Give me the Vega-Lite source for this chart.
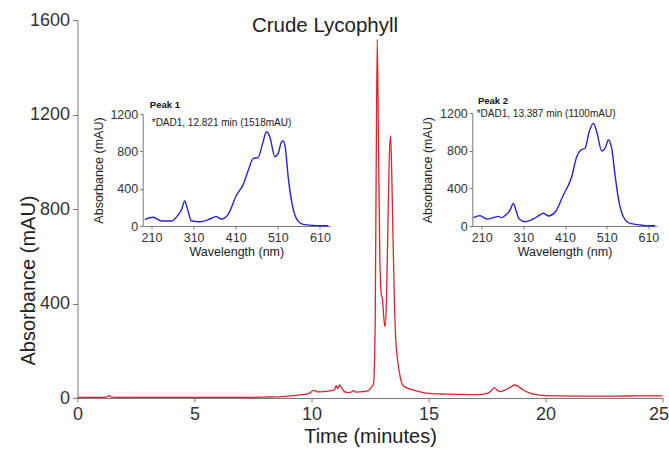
{
  "$schema": "https://vega.github.io/schema/vega-lite/v6.json",
  "width": 585,
  "height": 378,
  "autosize": {"type": "none"},
  "padding": {"left": 77.5, "top": 20, "right": 6.5, "bottom": 54},
  "background": "white",
  "config": {
    "font": "Liberation Sans",
    "view": {"stroke": null},
    "axis": {"grid": false, "domainColor": "#7a7a7a", "tickColor": "#7a7a7a", "labelColor": "#333333", "titleColor": "#222222", "titleFontWeight": "normal", "labelFlush": false, "format": "d"}
  },
  "title": {"text": "Crude Lycophyll", "fontSize": 20.5, "fontWeight": "normal", "color": "#222222", "anchor": "middle", "dx": -45, "baseline": "middle", "offset": 0, "dy": 35},
  "datasets": {
    "main": [
      {"t": 0, "mAU": 3}, {"t": 0.5, "mAU": 3}, {"t": 1.0, "mAU": 3}, {"t": 1.25, "mAU": 4}, {"t": 1.36, "mAU": 10}, {"t": 1.45, "mAU": 4},
      {"t": 2, "mAU": 3}, {"t": 3, "mAU": 3}, {"t": 4, "mAU": 3}, {"t": 5, "mAU": 3}, {"t": 6, "mAU": 3}, {"t": 7, "mAU": 3},
      {"t": 7.5, "mAU": 3}, {"t": 8, "mAU": 4}, {"t": 8.5, "mAU": 5}, {"t": 8.9, "mAU": 7}, {"t": 9.2, "mAU": 10}, {"t": 9.6, "mAU": 14},
      {"t": 9.9, "mAU": 20}, {"t": 10.1, "mAU": 32}, {"t": 10.25, "mAU": 26}, {"t": 10.5, "mAU": 27}, {"t": 10.85, "mAU": 31},
      {"t": 11.0, "mAU": 36}, {"t": 11.05, "mAU": 52}, {"t": 11.12, "mAU": 40}, {"t": 11.2, "mAU": 55}, {"t": 11.3, "mAU": 40},
      {"t": 11.4, "mAU": 28}, {"t": 11.55, "mAU": 23}, {"t": 11.7, "mAU": 25}, {"t": 11.78, "mAU": 31}, {"t": 11.9, "mAU": 25},
      {"t": 12.2, "mAU": 27}, {"t": 12.43, "mAU": 31}, {"t": 12.55, "mAU": 45}, {"t": 12.65, "mAU": 60}, {"t": 12.72, "mAU": 300},
      {"t": 12.76, "mAU": 900}, {"t": 12.81, "mAU": 1518}, {"t": 12.86, "mAU": 1100}, {"t": 12.92, "mAU": 600}, {"t": 12.98, "mAU": 440},
      {"t": 13.03, "mAU": 420}, {"t": 13.1, "mAU": 330}, {"t": 13.14, "mAU": 302}, {"t": 13.2, "mAU": 400}, {"t": 13.26, "mAU": 700},
      {"t": 13.32, "mAU": 1000}, {"t": 13.38, "mAU": 1110}, {"t": 13.43, "mAU": 950}, {"t": 13.48, "mAU": 700}, {"t": 13.54, "mAU": 420},
      {"t": 13.6, "mAU": 250}, {"t": 13.68, "mAU": 160}, {"t": 13.78, "mAU": 95}, {"t": 13.85, "mAU": 65}, {"t": 13.92, "mAU": 52},
      {"t": 14.1, "mAU": 42}, {"t": 14.3, "mAU": 35}, {"t": 14.6, "mAU": 27}, {"t": 14.9, "mAU": 21}, {"t": 15.5, "mAU": 17},
      {"t": 16, "mAU": 16}, {"t": 16.5, "mAU": 15}, {"t": 17.06, "mAU": 14}, {"t": 17.4, "mAU": 17}, {"t": 17.56, "mAU": 22},
      {"t": 17.7, "mAU": 32}, {"t": 17.81, "mAU": 44}, {"t": 17.95, "mAU": 32}, {"t": 18.06, "mAU": 27}, {"t": 18.32, "mAU": 36},
      {"t": 18.5, "mAU": 46}, {"t": 18.7, "mAU": 55}, {"t": 18.85, "mAU": 48}, {"t": 19.05, "mAU": 34}, {"t": 19.3, "mAU": 22},
      {"t": 19.5, "mAU": 16}, {"t": 20, "mAU": 10}, {"t": 20.5, "mAU": 9}, {"t": 21.6, "mAU": 8}, {"t": 23, "mAU": 8},
      {"t": 24, "mAU": 9}, {"t": 25, "mAU": 9}
    ],
    "peak1": [
      {"wl": 194, "abs": 71}, {"wl": 214, "abs": 93}, {"wl": 234, "abs": 54}, {"wl": 258, "abs": 54}, {"wl": 273, "abs": 118},
      {"wl": 281, "abs": 171}, {"wl": 289, "abs": 268}, {"wl": 295, "abs": 189}, {"wl": 305, "abs": 54}, {"wl": 325, "abs": 46},
      {"wl": 349, "abs": 75}, {"wl": 364, "abs": 100}, {"wl": 376, "abs": 75}, {"wl": 392, "abs": 125}, {"wl": 412, "abs": 332},
      {"wl": 428, "abs": 446}, {"wl": 440, "abs": 600}, {"wl": 452, "abs": 725}, {"wl": 463, "abs": 732}, {"wl": 474, "abs": 885},
      {"wl": 483, "abs": 1010}, {"wl": 491, "abs": 957}, {"wl": 503, "abs": 743}, {"wl": 511, "abs": 778}, {"wl": 519, "abs": 903},
      {"wl": 523, "abs": 910}, {"wl": 528, "abs": 832}, {"wl": 535, "abs": 510}, {"wl": 543, "abs": 261}, {"wl": 554, "abs": 82},
      {"wl": 570, "abs": 18}, {"wl": 602, "abs": 4}, {"wl": 630, "abs": 2}
    ],
    "peak2": [
      {"wl": 190, "abs": 89}, {"wl": 206, "abs": 110}, {"wl": 222, "abs": 75}, {"wl": 238, "abs": 89}, {"wl": 250, "abs": 103},
      {"wl": 258, "abs": 89}, {"wl": 266, "abs": 110}, {"wl": 278, "abs": 170}, {"wl": 286, "abs": 241}, {"wl": 292, "abs": 170},
      {"wl": 300, "abs": 75}, {"wl": 314, "abs": 46}, {"wl": 334, "abs": 75}, {"wl": 346, "abs": 107}, {"wl": 358, "abs": 135},
      {"wl": 370, "abs": 107}, {"wl": 386, "abs": 146}, {"wl": 406, "abs": 330}, {"wl": 426, "abs": 525}, {"wl": 438, "abs": 738},
      {"wl": 448, "abs": 809}, {"wl": 458, "abs": 827}, {"wl": 468, "abs": 1005}, {"wl": 478, "abs": 1093}, {"wl": 486, "abs": 1005},
      {"wl": 498, "abs": 799}, {"wl": 506, "abs": 827}, {"wl": 514, "abs": 916}, {"wl": 522, "abs": 827}, {"wl": 530, "abs": 543},
      {"wl": 538, "abs": 295}, {"wl": 550, "abs": 99}, {"wl": 566, "abs": 28}, {"wl": 598, "abs": 7}, {"wl": 626, "abs": 2}
    ],
    "p1head": [{"wl": 206, "abs": 1296, "label": "Peak 1"}],
    "p1sub": [{"wl": 210.5, "abs": 1107, "label": "*DAD1, 12.821 min (1518mAU)"}],
    "p2head": [{"wl": 201, "abs": 1330, "label": "Peak 2"}],
    "p2sub": [{"wl": 198, "abs": 1190, "label": "*DAD1, 13.387 min (1100mAU)"}]
  },
  "layer": [
    {
      "data": {"name": "main"},
      "mark": {"type": "line", "color": "#e3202b", "strokeWidth": 1.3, "interpolate": "monotone"},
      "encoding": {
        "x": {"field": "t", "type": "quantitative", "scale": {"domain": [0, 25], "nice": false},
          "axis": {"orient": "bottom", "values": [0, 5, 10, 15, 20, 25], "title": "Time (minutes)", "labelFontSize": 18, "titleFontSize": 20, "tickSize": 4, "labelPadding": 3, "titlePadding": 3,
            "labelAlign": {"condition": {"test": "datum.value === 25", "value": "right"}, "value": "center"},
            "labelOffset": {"condition": {"test": "datum.value === 25", "value": 6}, "value": 0}}},
        "y": {"field": "mAU", "type": "quantitative", "scale": {"domain": [0, 1600], "nice": false},
          "axis": {"orient": "left", "values": [0, 400, 800, 1200, 1600], "title": "Absorbance (mAU)", "labelFontSize": 18, "titleFontSize": 20, "tickSize": 5, "labelPadding": 3, "titleX": -49.5, "titleY": 260, "titleBaseline": "middle"}}
      }
    },
    {
      "layer": [
        {
          "data": {"name": "peak1"},
          "mark": {"type": "line", "color": "#2323d8", "strokeWidth": 1.4, "interpolate": "monotone"},
          "encoding": {
            "x": {"field": "wl", "type": "quantitative", "scale": {"domain": [189, 634], "range": [65.2, 252.5], "nice": false, "zero": false},
              "axis": {"orient": "bottom", "offset": -172, "values": [210, 310, 410, 510, 610], "title": "Wavelength (nm)", "labelFontSize": 12.5, "titleFontSize": 12.5, "tickSize": 3, "labelPadding": 2, "titlePadding": 2}},
            "y": {"field": "abs", "type": "quantitative", "scale": {"domain": [0, 1200], "range": [206, 94], "nice": false},
              "axis": {"orient": "left", "offset": -65.2, "values": [0, 400, 800, 1200], "title": "Absorbance (mAU)", "labelFontSize": 12.5, "titleFontSize": 12.5, "tickSize": 3, "labelPadding": 2, "titlePadding": 4}}
          }
        },
        {
          "data": {"name": "p1head"},
          "mark": {"type": "text", "fontWeight": "bold", "fontSize": 9.5, "align": "left", "baseline": "middle", "color": "#111111"},
          "encoding": {"x": {"field": "wl", "type": "quantitative"}, "y": {"field": "abs", "type": "quantitative"}, "text": {"field": "label"}}
        },
        {
          "data": {"name": "p1sub"},
          "mark": {"type": "text", "fontSize": 10, "align": "left", "baseline": "middle", "color": "#222222"},
          "encoding": {"x": {"field": "wl", "type": "quantitative"}, "y": {"field": "abs", "type": "quantitative"}, "text": {"field": "label"}}
        }
      ]
    },
    {
      "layer": [
        {
          "data": {"name": "peak2"},
          "mark": {"type": "line", "color": "#2323d8", "strokeWidth": 1.4, "interpolate": "monotone"},
          "encoding": {
            "x": {"field": "wl", "type": "quantitative", "scale": {"domain": [187.4, 630], "range": [394.8, 579.2], "nice": false, "zero": false},
              "axis": {"orient": "bottom", "offset": -172, "values": [210, 310, 410, 510, 610], "title": "Wavelength (nm)", "labelFontSize": 12.5, "titleFontSize": 12.5, "tickSize": 3, "labelPadding": 2, "titlePadding": 2}},
            "y": {"field": "abs", "type": "quantitative", "scale": {"domain": [0, 1200], "range": [206, 93.3], "nice": false},
              "axis": {"orient": "left", "offset": -394.8, "values": [0, 400, 800, 1200], "title": "Absorbance (mAU)", "labelFontSize": 12.5, "titleFontSize": 12.5, "tickSize": 3, "labelPadding": 2, "titlePadding": 5}}
          }
        },
        {
          "data": {"name": "p2head"},
          "mark": {"type": "text", "fontWeight": "bold", "fontSize": 9.5, "align": "left", "baseline": "middle", "color": "#111111"},
          "encoding": {"x": {"field": "wl", "type": "quantitative"}, "y": {"field": "abs", "type": "quantitative"}, "text": {"field": "label"}}
        },
        {
          "data": {"name": "p2sub"},
          "mark": {"type": "text", "fontSize": 10, "align": "left", "baseline": "middle", "color": "#222222"},
          "encoding": {"x": {"field": "wl", "type": "quantitative"}, "y": {"field": "abs", "type": "quantitative"}, "text": {"field": "label"}}
        }
      ]
    }
  ],
  "resolve": {"scale": {"x": "independent", "y": "independent"}, "axis": {"x": "independent", "y": "independent"}}
}
